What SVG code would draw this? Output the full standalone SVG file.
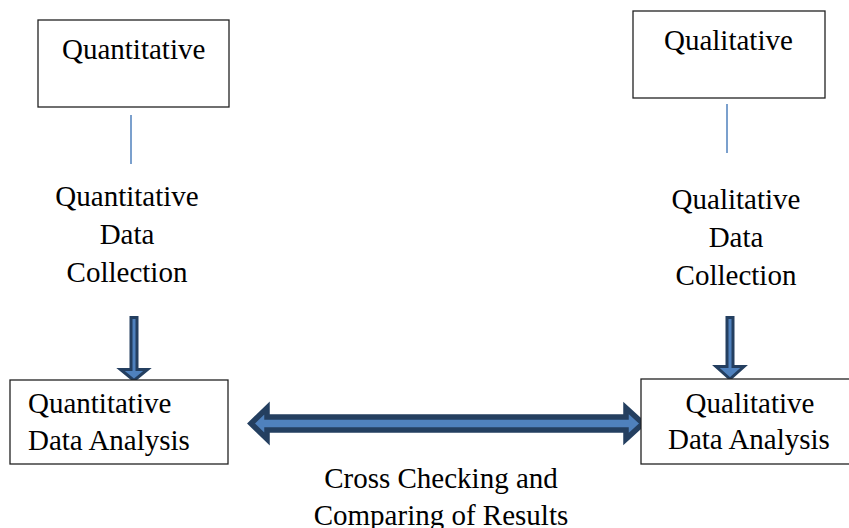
<svg xmlns="http://www.w3.org/2000/svg" width="849" height="528" viewBox="0 0 849 528">
<style>
.box{fill:#fff;stroke:#222;stroke-width:1.3}
.t{font-family:"Liberation Serif","Times New Roman",serif;font-size:29px;fill:#000}
.c{text-anchor:middle}
.ln{stroke:#4f81bd;stroke-width:1.5;fill:none}
.ar{fill:#4f81bd;stroke:#243f60;stroke-linejoin:miter}
</style>
<rect width="849" height="528" fill="#fff"/>
<g id="connectors">
<line class="ln" x1="131" y1="115" x2="131" y2="164"/>
<line class="ln" x1="727" y1="104" x2="727" y2="153"/>
<polygon class="ar" stroke-width="3" points="131,317.5 137,317.5 137,369.5 147.5,369.5 134,380.5 120.5,369.5 131,369.5"/>
<polygon class="ar" stroke-width="3" points="727,317.5 733,317.5 733,366.5 744,366.5 730,379 716,366.5 727,366.5"/>
<polygon class="ar" stroke-width="5.5" points="251,423.5 267,408 267,417 626,417 626,408 643,423.5 626,439 626,430 267,430 267,439"/>
</g>
<g id="quantitative">
<rect class="box" x="38" y="20" width="191" height="87"/>
<text class="t" x="62" y="59">Quantitative</text>
</g>
<g id="qualitative">
<rect class="box" x="633" y="11" width="192" height="87"/>
<text class="t" x="664" y="50">Qualitative</text>
</g>
<g id="quant-collection">
<text class="t c" x="127" y="206">Quantitative</text>
<text class="t c" x="127" y="244">Data</text>
<text class="t c" x="127" y="282">Collection</text>
</g>
<g id="qual-collection">
<text class="t c" x="736" y="209">Qualitative</text>
<text class="t c" x="736" y="247">Data</text>
<text class="t c" x="736" y="285">Collection</text>
</g>
<g id="quant-analysis">
<rect class="box" x="10" y="380" width="218" height="84"/>
<text class="t" x="28" y="413">Quantitative</text>
<text class="t" x="28" y="450">Data Analysis</text>
</g>
<g id="qual-analysis">
<rect class="box" x="641" y="379" width="210" height="85"/>
<text class="t c" x="750" y="413">Qualitative</text>
<text class="t" x="668" y="449">Data Analysis</text>
</g>
<g id="cross-label">
<text class="t c" x="441" y="488">Cross Checking and</text>
<text class="t c" x="441" y="525">Comparing of Results</text>
</g>
</svg>
